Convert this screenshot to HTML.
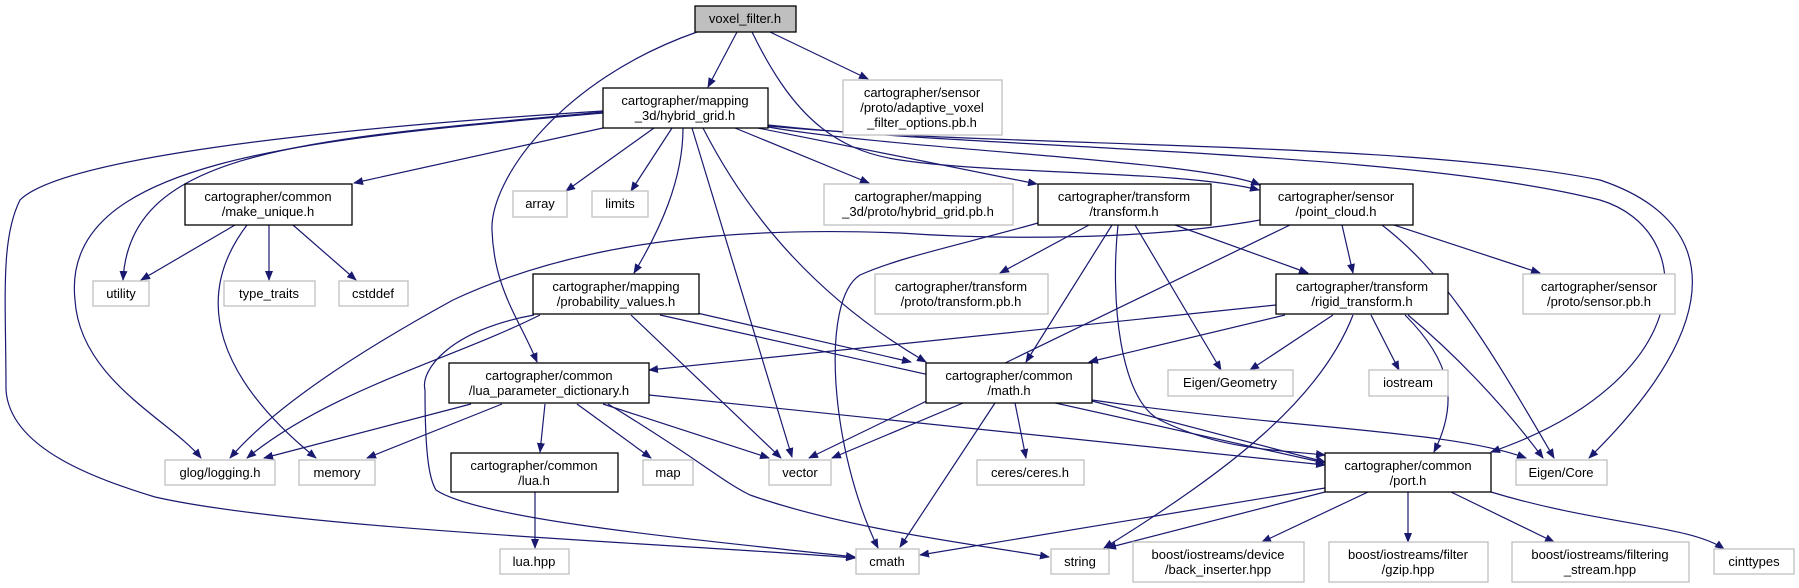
<!DOCTYPE html>
<html><head><meta charset="utf-8"><style>
html,body{margin:0;padding:0;background:#fff;}
svg{display:block;}
text{font-family:"Liberation Sans",sans-serif;font-size:13px;fill:#000;text-anchor:middle;}
.e{fill:none;stroke:#191970;stroke-width:1.2;marker-end:url(#a);}
.n{fill:#fff;stroke:#000;stroke-width:1.3;}
.g{fill:#fff;stroke:#bfbfbf;stroke-width:1.3;}
</style></head><body>
<svg width="1799" height="588" viewBox="0 0 1799 588" xmlns="http://www.w3.org/2000/svg">
<defs><marker id="a" markerWidth="10" markerHeight="8" refX="9" refY="4" orient="auto" markerUnits="userSpaceOnUse"><path d="M0,0 L10,4 L0,8 z" fill="#191970"/></marker></defs>

<!-- edges -->
<path class="e" d="M737,32 L708,87"/>
<path class="e" d="M697,32 C560,80 490,180 492,230 C494,290 520,320 537,362"/>
<path class="e" d="M752,32 C790,110 830,150 900,160 C1000,175 1180,170 1259,190"/>
<path class="e" d="M770,32 L868,79"/>

<path class="e" d="M603,128 L354,183"/>
<path class="e" d="M654,128 L566,191"/>
<path class="e" d="M672,128 L631,191"/>
<path class="e" d="M683,128 C683,180 660,230 634,273"/>
<path class="e" d="M692,128 L792,457"/>
<path class="e" d="M703,128 C750,220 820,300 926,362"/>
<path class="e" d="M735,128 L869,183"/>
<path class="e" d="M758,128 L1037,184"/>
<path class="e" d="M768,127 C900,150 1200,160 1260,185"/>
<path class="e" d="M603,112 C300,140 130,150 123,280"/>
<path class="e" d="M603,113 C300,140 60,160 75,300 C80,380 170,420 201,458"/>
<path class="e" d="M603,111 C300,130 60,160 20,200 C0,240 6,300 6,390 C10,450 100,480 155,497 C300,530 700,545 855,558"/>
<path class="e" d="M768,126 C1000,148 1400,140 1600,180 C1720,220 1730,320 1589,458"/>
<path class="e" d="M768,125 C1000,150 1400,150 1600,200 C1700,230 1700,380 1491,452"/>

<path class="e" d="M235,225 L141,280"/>
<path class="e" d="M247,225 C190,300 220,380 316,458"/>
<path class="e" d="M269,225 L269,280"/>
<path class="e" d="M293,225 L356,280"/>

<path class="e" d="M1089,225 L1000,273"/>
<path class="e" d="M1112,225 L1026,362"/>
<path class="e" d="M1135,225 L1221,370"/>
<path class="e" d="M1175,225 L1308,273"/>
<path class="e" d="M1038,223 C960,245 900,257 860,275 C820,300 830,450 878,548"/>
<path class="e" d="M1118,225 C1110,300 1120,400 1160,420 C1220,450 1280,450 1325,455"/>

<path class="e" d="M1260,220 C1150,240 1000,240 900,233 C700,225 560,250 453,300 C380,340 280,400 230,458"/>
<path class="e" d="M1290,225 L809,458"/>
<path class="e" d="M1342,225 L1353,273"/>
<path class="e" d="M1382,225 C1440,270 1480,330 1554,458"/>
<path class="e" d="M1394,225 L1540,273"/>

<path class="e" d="M1276,305 L649,370"/>
<path class="e" d="M1285,315 L1089,362"/>
<path class="e" d="M1333,315 L1250,370"/>
<path class="e" d="M1371,315 L1399,370"/>
<path class="e" d="M1353,315 C1320,400 1230,470 1104,548"/>
<path class="e" d="M1405,315 C1450,360 1460,400 1434,452"/>
<path class="e" d="M1408,315 C1450,350 1500,400 1543,458"/>

<path class="e" d="M540,315 C450,360 330,390 247,458"/>
<path class="e" d="M534,315 C450,330 420,370 425,390 C425,460 430,480 436,490 C480,520 700,540 855,557"/>
<path class="e" d="M631,315 L781,458"/>
<path class="e" d="M697,313 L911,362"/>
<path class="e" d="M660,315 L1325,463"/>

<path class="e" d="M471,404 L264,458"/>
<path class="e" d="M502,404 L367,458"/>
<path class="e" d="M545,404 L540,452"/>
<path class="e" d="M577,404 L651,458"/>
<path class="e" d="M603,404 L769,458"/>
<path class="e" d="M608,404 C700,460 720,480 750,495 C850,530 980,545 1049,557"/>
<path class="e" d="M649,395 L1325,465"/>

<path class="e" d="M535,492 L535,548"/>

<path class="e" d="M963,403 L832,458"/>
<path class="e" d="M995,403 L900,547"/>
<path class="e" d="M1015,403 L1026,458"/>
<path class="e" d="M1092,401 L1325,462"/>
<path class="e" d="M1092,400 C1300,430 1450,430 1526,458"/>

<path class="e" d="M1325,488 L920,555"/>
<path class="e" d="M1325,492 L1107,548"/>
<path class="e" d="M1368,492 L1262,542"/>
<path class="e" d="M1408,492 L1408,542"/>
<path class="e" d="M1451,492 L1554,542"/>
<path class="e" d="M1491,492 C1600,525 1690,525 1724,549"/>

<!-- nodes -->
<rect x="695" y="6" width="101" height="26" fill="#bfbfbf" stroke="#000" stroke-width="1.3"/><text x="745" y="23">voxel_filter.h</text>
<rect class="n" x="603" y="88" width="165" height="40"/><text x="685" y="105">cartographer/mapping</text><text x="685" y="120">_3d/hybrid_grid.h</text>
<rect class="g" x="843" y="80" width="159" height="55"/><text x="922" y="97">cartographer/sensor</text><text x="922" y="112">/proto/adaptive_voxel</text><text x="922" y="127">_filter_options.pb.h</text>
<rect class="n" x="185" y="184" width="167" height="41"/><text x="268" y="201">cartographer/common</text><text x="268" y="216">/make_unique.h</text>
<rect class="g" x="513" y="191" width="54" height="26"/><text x="540" y="208">array</text>
<rect class="g" x="592" y="191" width="56" height="26"/><text x="620" y="208">limits</text>
<rect class="g" x="824" y="184" width="189" height="41"/><text x="918" y="201">cartographer/mapping</text><text x="918" y="216">_3d/proto/hybrid_grid.pb.h</text>
<rect class="n" x="1038" y="184" width="173" height="41"/><text x="1124" y="201">cartographer/transform</text><text x="1124" y="216">/transform.h</text>
<rect class="n" x="1260" y="184" width="153" height="41"/><text x="1336" y="201">cartographer/sensor</text><text x="1336" y="216">/point_cloud.h</text>
<rect class="g" x="93" y="281" width="56" height="25"/><text x="121" y="298">utility</text>
<rect class="g" x="224" y="281" width="91" height="25"/><text x="269" y="298">type_traits</text>
<rect class="g" x="339" y="281" width="69" height="25"/><text x="373" y="298">cstddef</text>
<rect class="n" x="533" y="274" width="166" height="40"/><text x="616" y="291">cartographer/mapping</text><text x="616" y="306">/probability_values.h</text>
<rect class="g" x="875" y="274" width="173" height="40"/><text x="961" y="291">cartographer/transform</text><text x="961" y="306">/proto/transform.pb.h</text>
<rect class="n" x="1276" y="274" width="172" height="40"/><text x="1362" y="291">cartographer/transform</text><text x="1362" y="306">/rigid_transform.h</text>
<rect class="g" x="1523" y="274" width="152" height="40"/><text x="1599" y="291">cartographer/sensor</text><text x="1599" y="306">/proto/sensor.pb.h</text>
<rect class="n" x="449" y="363" width="200" height="40"/><text x="549" y="380">cartographer/common</text><text x="549" y="395">/lua_parameter_dictionary.h</text>
<rect class="n" x="926" y="363" width="166" height="40"/><text x="1009" y="380">cartographer/common</text><text x="1009" y="395">/math.h</text>
<rect class="g" x="1168" y="370" width="125" height="26"/><text x="1230" y="387">Eigen/Geometry</text>
<rect class="g" x="1369" y="370" width="79" height="26"/><text x="1408" y="387">iostream</text>
<rect class="g" x="165" y="460" width="110" height="25"/><text x="220" y="477">glog/logging.h</text>
<rect class="g" x="299" y="460" width="76" height="25"/><text x="337" y="477">memory</text>
<rect class="n" x="451" y="453" width="167" height="39"/><text x="534" y="470">cartographer/common</text><text x="534" y="485">/lua.h</text>
<rect class="g" x="643" y="460" width="50" height="25"/><text x="668" y="477">map</text>
<rect class="g" x="769" y="460" width="62" height="25"/><text x="800" y="477">vector</text>
<rect class="g" x="977" y="460" width="107" height="25"/><text x="1030" y="477">ceres/ceres.h</text>
<rect class="n" x="1325" y="453" width="166" height="39"/><text x="1408" y="470">cartographer/common</text><text x="1408" y="485">/port.h</text>
<rect class="g" x="1516" y="460" width="91" height="25"/><text x="1561" y="477">Eigen/Core</text>
<rect class="g" x="500" y="549" width="69" height="25"/><text x="534" y="566">lua.hpp</text>
<rect class="g" x="856" y="549" width="63" height="25"/><text x="887" y="566">cmath</text>
<rect class="g" x="1051" y="549" width="58" height="25"/><text x="1080" y="566">string</text>
<rect class="g" x="1133" y="542" width="171" height="40"/><text x="1218" y="559">boost/iostreams/device</text><text x="1218" y="574">/back_inserter.hpp</text>
<rect class="g" x="1329" y="542" width="159" height="40"/><text x="1408" y="559">boost/iostreams/filter</text><text x="1408" y="574">/gzip.hpp</text>
<rect class="g" x="1512" y="542" width="177" height="40"/><text x="1600" y="559">boost/iostreams/filtering</text><text x="1600" y="574">_stream.hpp</text>
<rect class="g" x="1714" y="549" width="80" height="25"/><text x="1754" y="566">cinttypes</text>
</svg>
</body></html>
